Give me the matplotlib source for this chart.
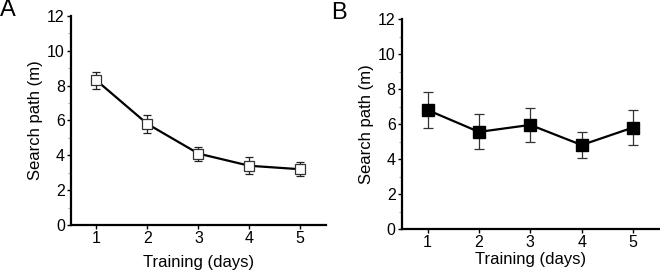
import numpy as np
import matplotlib.pyplot as plt
from matplotlib.ticker import MultipleLocator

plt.rcParams['font.family'] = ['Liberation Sans', 'DejaVu Sans']

days = [1, 2, 3, 4, 5]
path_a = [8.3, 5.8, 4.1, 3.4, 3.2]
err_a = [0.5, 0.5, 0.4, 0.5, 0.4]
path_b = [6.8, 5.55, 5.95, 4.8, 5.8]
err_b = [1.05, 1.0, 0.95, 0.75, 1.0]

fig = plt.figure(figsize=(6.6, 2.72), dpi=100)
ax_a = fig.add_axes([0.1076, 0.173, 0.386, 0.768])
ax_b = fig.add_axes([0.609, 0.158, 0.389, 0.772])


def style_axis(ax):
    ax.spines['top'].set_visible(False)
    ax.spines['right'].set_visible(False)
    ax.spines['left'].set_linewidth(1.6)
    ax.spines['bottom'].set_linewidth(1.6)
    ax.set_xlim(0.5, 5.5)
    ax.set_ylim(0, 12)
    ax.set_xticks(days)
    ax.set_yticks(range(0, 13, 2))
    ax.yaxis.set_minor_locator(MultipleLocator(1))
    ax.tick_params(axis='both', which='major', direction='out', length=3,
                   width=1, labelsize=11.5, pad=1.5)
    ax.tick_params(axis='y', which='minor', direction='out', length=2,
                   width=0.8, color='#aaaaaa')
    ax.set_xlabel('Training (days)', fontsize=12, labelpad=6)
    ax.set_ylabel('Search path (m)', fontsize=12, labelpad=3)


ax_a.errorbar(days, path_a, yerr=err_a, color='black', lw=1.6,
              marker='s', ms=7, mfc='white', mec='#333333', mew=0.9,
              ecolor='#222222', elinewidth=0.9, capsize=3, capthick=0.9)
style_axis(ax_a)

ax_b.errorbar(days, path_b, yerr=err_b, color='black', lw=1.6,
              marker='s', ms=9, mfc='black', mec='black',
              ecolor='#333333', elinewidth=0.9, capsize=3.5, capthick=0.9)
style_axis(ax_b)
ax_b.xaxis.labelpad = 1

fig.text(0.0, 0.962, 'A', fontsize=17, va='center', ha='left')
fig.text(0.502, 0.952, 'B', fontsize=17, va='center', ha='left')

fig.savefig('out.png', dpi=100)
